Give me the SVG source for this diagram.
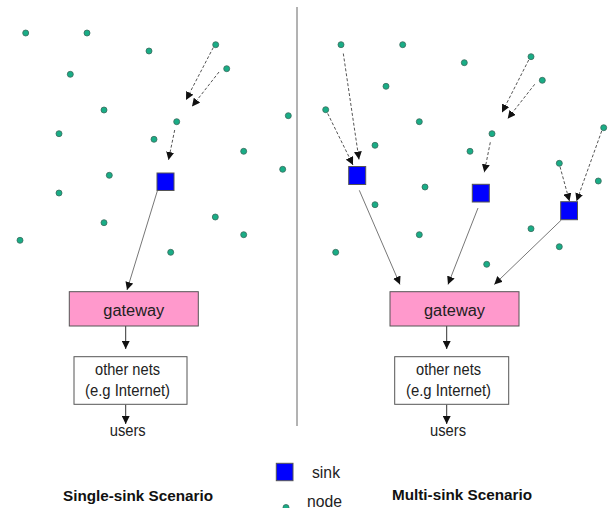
<svg xmlns="http://www.w3.org/2000/svg" width="610" height="508" viewBox="0 0 610 508">
  <style>
    .dot { fill: #19ad86; stroke: #3a6a5c; stroke-width: 0.8; }
    .sink { fill: #0000ff; stroke: #555; stroke-width: 1; }
    .gw { fill: #ff99cc; stroke: #555; stroke-width: 1; }
    .box { fill: #fff; stroke: #555; stroke-width: 1; }
    .t { font-family: "Liberation Sans", Arial, sans-serif; font-size: 16px; fill: #222; text-anchor: middle; }
    .title { font-family: "Liberation Sans", Arial, sans-serif; font-size: 15px; font-weight: bold; fill: #111; text-anchor: middle; }
    .solid { stroke: #777; stroke-width: 1; fill: none; marker-end: url(#ah); }
    .dash { stroke: #555; stroke-width: 1; stroke-dasharray: 3 2; fill: none; marker-end: url(#ah); }
    .down { stroke: #333; stroke-width: 1; fill: none; marker-end: url(#ah); }
  </style>
  <defs>
    <marker id="ah" viewBox="0 0 10 10" refX="10" refY="5" markerWidth="8" markerHeight="8" markerUnits="userSpaceOnUse" orient="auto">
      <path d="M0,0 L10,5 L0,10 z" fill="#111"/>
    </marker>
  </defs>

  <rect width="610" height="508" fill="#fff"/>

  <!-- divider -->
  <line x1="297" y1="7" x2="297" y2="426" stroke="#666" stroke-width="1"/>

  <!-- sensor nodes, left field -->
  <g id="nodes-left">
    <circle class="dot" cx="25.7" cy="33" r="3"/>
    <circle class="dot" cx="87" cy="33" r="3"/>
    <circle class="dot" cx="149" cy="51" r="3"/>
    <circle class="dot" cx="215.7" cy="44.7" r="3"/>
    <circle class="dot" cx="226.7" cy="68.7" r="3"/>
    <circle class="dot" cx="70.3" cy="74.3" r="3"/>
    <circle class="dot" cx="104" cy="110" r="3"/>
    <circle class="dot" cx="59" cy="133.7" r="3"/>
    <circle class="dot" cx="176.7" cy="121.7" r="3"/>
    <circle class="dot" cx="154" cy="139.3" r="3"/>
    <circle class="dot" cx="288.3" cy="115.7" r="3"/>
    <circle class="dot" cx="243.7" cy="151.3" r="3"/>
    <circle class="dot" cx="282.7" cy="169.3" r="3"/>
    <circle class="dot" cx="109.3" cy="175.3" r="3"/>
    <circle class="dot" cx="59" cy="193" r="3"/>
    <circle class="dot" cx="104" cy="222.7" r="3"/>
    <circle class="dot" cx="215.3" cy="217" r="3"/>
    <circle class="dot" cx="243.7" cy="234.7" r="3"/>
    <circle class="dot" cx="20" cy="240.3" r="3"/>
    <circle class="dot" cx="170.7" cy="252.3" r="3"/>
  </g>

  <!-- sensor nodes, right field -->
  <g id="nodes-right">
    <circle class="dot" cx="341" cy="44.7" r="3"/>
    <circle class="dot" cx="402.7" cy="44.7" r="3"/>
    <circle class="dot" cx="464.3" cy="62.7" r="3"/>
    <circle class="dot" cx="531" cy="56.7" r="3"/>
    <circle class="dot" cx="542.3" cy="80.3" r="3"/>
    <circle class="dot" cx="386" cy="86.3" r="3"/>
    <circle class="dot" cx="325.7" cy="109.7" r="3"/>
    <circle class="dot" cx="419.3" cy="121.7" r="3"/>
    <circle class="dot" cx="375" cy="145.3" r="3"/>
    <circle class="dot" cx="492" cy="133.7" r="3"/>
    <circle class="dot" cx="470" cy="151.3" r="3"/>
    <circle class="dot" cx="603.7" cy="127.7" r="3"/>
    <circle class="dot" cx="559.3" cy="163.3" r="3"/>
    <circle class="dot" cx="598.3" cy="181" r="3"/>
    <circle class="dot" cx="425" cy="187" r="3"/>
    <circle class="dot" cx="375" cy="204.7" r="3"/>
    <circle class="dot" cx="531" cy="228.7" r="3"/>
    <circle class="dot" cx="559.3" cy="246.7" r="3"/>
    <circle class="dot" cx="419.3" cy="234.7" r="3"/>
    <circle class="dot" cx="335.7" cy="252.3" r="3"/>
    <circle class="dot" cx="486.7" cy="264.3" r="3"/>
  </g>

  <!-- connectors -->
  <g id="connectors">
    <!-- left: multi-hop toward the sink -->
    <line class="dash" x1="213.3" y1="47.5" x2="186" y2="100"/>
    <line class="dash" x1="219" y1="72" x2="192" y2="106.5"/>
    <line class="dash" x1="174.7" y1="130" x2="168.5" y2="160"/>
    <line class="solid" x1="157.3" y1="191" x2="127" y2="290"/>
    <line class="down" x1="125.7" y1="326" x2="125.7" y2="349"/>
    <line class="down" x1="125.7" y1="404.5" x2="125.7" y2="424"/>

    <!-- right: multi-hop toward three sinks -->
    <line class="dash" x1="343.3" y1="53.5" x2="359" y2="159.5"/>
    <line class="dash" x1="327.7" y1="113.5" x2="353" y2="165"/>
    <line class="dash" x1="528.7" y1="60" x2="502" y2="112.5"/>
    <line class="dash" x1="534.7" y1="84.3" x2="507.7" y2="118.7"/>
    <line class="dash" x1="490.3" y1="142.3" x2="484.3" y2="172.3"/>
    <line class="dash" x1="560" y1="166.7" x2="569.5" y2="201.3"/>
    <line class="dash" x1="601.7" y1="131" x2="576.5" y2="201.3"/>
    <line class="solid" x1="359.3" y1="190.3" x2="400" y2="284.5"/>
    <line class="solid" x1="478" y1="208" x2="448" y2="284.5"/>
    <line class="solid" x1="561.3" y1="220" x2="494.3" y2="284.5"/>
    <line class="down" x1="446.7" y1="326" x2="446.7" y2="349"/>
    <line class="down" x1="446.7" y1="404.5" x2="446.7" y2="424"/>
  </g>

  <!-- sinks -->
  <g id="sink-left"><rect class="sink" x="157" y="173" width="17" height="17.5"/></g>
  <g id="sink-right-1"><rect class="sink" x="348.7" y="166.5" width="17" height="18"/></g>
  <g id="sink-right-2"><rect class="sink" x="472.3" y="184.3" width="17" height="17.7"/></g>
  <g id="sink-right-3"><rect class="sink" x="560.7" y="201.7" width="16.8" height="18"/></g>

  <!-- gateways -->
  <g id="gateway-left">
    <rect class="gw" x="69.3" y="291.7" width="129" height="34.3"/>
    <text class="t" x="133.8" y="315.5" textLength="61" lengthAdjust="spacingAndGlyphs">gateway</text>
  </g>
  <g id="gateway-right">
    <rect class="gw" x="390" y="291.7" width="129" height="34.3"/>
    <text class="t" x="454.5" y="315.5" textLength="61" lengthAdjust="spacingAndGlyphs">gateway</text>
  </g>

  <!-- other networks -->
  <g id="nets-left">
    <rect class="box" x="74" y="356.7" width="113" height="47.6"/>
    <text class="t" x="127.5" y="375" textLength="65" lengthAdjust="spacingAndGlyphs">other nets</text>
    <text class="t" x="127.5" y="396" textLength="85" lengthAdjust="spacingAndGlyphs">(e.g Internet)</text>
  </g>
  <g id="nets-right">
    <rect class="box" x="394.7" y="356.7" width="114" height="47.6"/>
    <text class="t" x="448.5" y="375" textLength="65" lengthAdjust="spacingAndGlyphs">other nets</text>
    <text class="t" x="448.5" y="396" textLength="85" lengthAdjust="spacingAndGlyphs">(e.g Internet)</text>
  </g>

  <!-- users -->
  <g id="users-left"><text class="t" x="127.7" y="436" textLength="36" lengthAdjust="spacingAndGlyphs">users</text></g>
  <g id="users-right"><text class="t" x="448" y="436" textLength="36" lengthAdjust="spacingAndGlyphs">users</text></g>

  <!-- legend -->
  <g id="legend">
    <rect class="sink" x="276.3" y="463.3" width="16.7" height="17.4"/>
    <text class="t" x="326" y="477.5" textLength="28" lengthAdjust="spacingAndGlyphs">sink</text>
    <circle class="dot" cx="286" cy="507.5" r="3"/>
    <text class="t" x="324.5" y="506.5" textLength="35" lengthAdjust="spacingAndGlyphs">node</text>
  </g>

  <!-- scenario titles -->
  <text class="title" x="138" y="501" textLength="150" lengthAdjust="spacingAndGlyphs">Single-sink Scenario</text>
  <text class="title" x="462" y="500" textLength="140" lengthAdjust="spacingAndGlyphs">Multi-sink Scenario</text>
</svg>
